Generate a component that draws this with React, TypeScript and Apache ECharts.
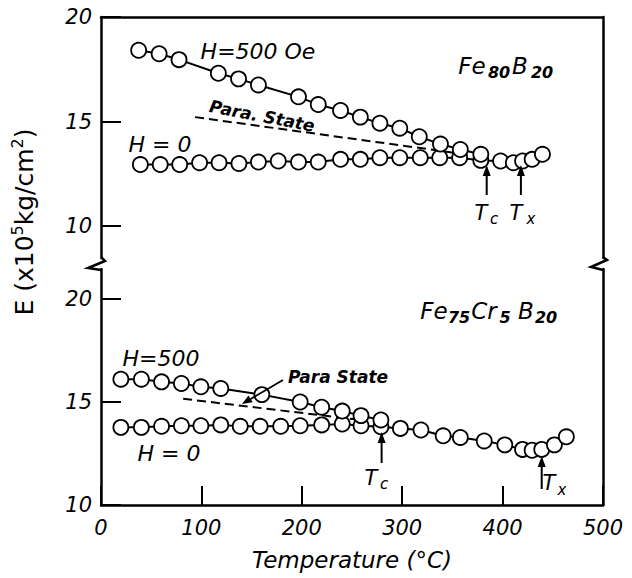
import React, { useEffect, useRef } from "react";
import * as echarts from "echarts";

// ---------- data ----------
const xTicks = [0, 100, 200, 300, 400, 500];
const yTicks = [10, 15, 20];

// Fe80B20, H = 500 Oe
const top500T = [37.5, 57.9, 77.7, 116.9, 137, 156.8, 196.7, 216.4, 238.6, 258.3, 277.8, 297.6, 317, 338.1, 357.9, 378.3];
const top500E = [18.41, 18.24, 17.96, 17.31, 17.04, 16.75, 16.18, 15.81, 15.53, 15.21, 14.92, 14.68, 14.27, 13.92, 13.66, 13.43];
// Fe80B20, H = 0
const top0T = [39.2, 59, 78.4, 98.2, 117.6, 137.4, 156.8, 176.6, 196.7, 216.4, 238.6, 258.3, 277.8, 297.6, 318, 337.4, 357.2, 378.3, 398, 410.7, 419.9, 429.4, 439.7];
const top0E = [12.94, 12.94, 12.94, 13.03, 13.03, 12.99, 13.06, 13.11, 13.06, 13.06, 13.19, 13.19, 13.27, 13.27, 13.27, 13.27, 13.27, 13.14, 13.11, 13.03, 13.11, 13.19, 13.43];
// Fe80B20, para state
const topParaT = [93.7, 368];
const topParaE = [15.21, 13.4];

// Fe75Cr5B20, H = 500
const bot500T = [19.8, 40.2, 60.3, 80.1, 99.5, 119.3, 160.2, 198.4, 219.8, 240.3, 259, 278.8];
const bot500E = [16.11, 16.11, 15.98, 15.9, 15.74, 15.66, 15.36, 15.0, 14.75, 14.56, 14.34, 14.13];
// Fe75Cr5B20, H = 0
const bot0T = [19.8, 40.2, 60.3, 80.1, 99.5, 119.3, 138.7, 158.5, 179, 198.4, 219.8, 240.3, 259, 278.8, 298.2, 318.7, 340.8, 357.9, 381.7, 402.2, 419.9, 429.4, 439, 451.6, 463.5];
const bot0E = [13.77, 13.77, 13.82, 13.85, 13.85, 13.89, 13.82, 13.82, 13.82, 13.85, 13.89, 13.93, 13.85, 13.8, 13.72, 13.64, 13.36, 13.28, 13.11, 12.92, 12.7, 12.66, 12.7, 12.92, 13.31];
// Fe75Cr5B20, para state
const botParaT = [81.8, 255];
const botParaE = [15.16, 14.15];

// ---------- helpers ----------
const FONT = '"DejaVu Sans", sans-serif';
const zip = (a: number[], b: number[]) => a.map((v, i) => [v, b[i]]);

const txt = (x: number, y: number, text: string, size: number, extra: any = {}, el: any = {}) => ({
  type: "text",
  x,
  y,
  z: 100,
  ...el,
  style: {
    text,
    fill: "#000",
    fontSize: size,
    fontFamily: FONT,
    fontStyle: "italic",
    align: "center",
    verticalAlign: "middle",
    ...extra,
  },
});

const upArrow = (x: number, yBottom: number, yTip: number) => [
  { type: "line", z: 100, shape: { x1: x, y1: yBottom, x2: x, y2: yTip + 8 }, style: { stroke: "#000", lineWidth: 2 } },
  { type: "polygon", z: 100, shape: { points: [[x, yTip], [x - 4, yTip + 11], [x + 4, yTip + 11]] }, style: { fill: "#000" } },
];

const markerSeries = (name: string, data: number[][], xi: number, yi: number) => ({
  name,
  type: "line",
  xAxisIndex: xi,
  yAxisIndex: yi,
  data,
  symbol: "circle",
  symbolSize: 15,
  itemStyle: { color: "#fff", borderColor: "#000", borderWidth: 1.8 },
  lineStyle: { color: "#000", width: 2 },
  z: 3,
});

const dashSeries = (name: string, data: number[][], xi: number, yi: number) => ({
  name,
  type: "line",
  xAxisIndex: xi,
  yAxisIndex: yi,
  data,
  showSymbol: false,
  symbol: "none",
  lineStyle: { color: "#000", width: 2, type: [9, 5] },
  z: 2,
});

const axisLineStyle = { show: true, onZero: false, lineStyle: { color: "#000", width: 2.5 } };
const tickLabel = { color: "#000", fontSize: 21, fontFamily: FONT, fontStyle: "italic" };

export default function App() {
  const ref = useRef<HTMLDivElement>(null);

  useEffect(() => {
    if (!ref.current) return;
    const chart = echarts.init(ref.current, undefined, { renderer: "svg" });

    const graphics: any[] = [
      // axis break marks
      { type: "polyline", z: 100, shape: { points: [[101, 257], [105, 261], [88, 268], [101, 270]] }, style: { stroke: "#000", lineWidth: 2.5, fill: null } },
      { type: "polyline", z: 100, shape: { points: [[603, 257], [607, 260], [591, 267], [603, 270]] }, style: { stroke: "#000", lineWidth: 2.5, fill: null } },
      // y axis title
      {
        type: "text",
        x: 24,
        y: 222,
        rotation: Math.PI / 2,
        style: {
          text: "{n|E (x10}{s|5}{n|kg/cm}{s|2}{n|)}",
          align: "center",
          verticalAlign: "middle",
          fill: "#000",
          rich: {
            n: { fontSize: 25, fontFamily: FONT, lineHeight: 30, fill: "#000" },
            s: { fontSize: 16, fontFamily: FONT, lineHeight: 16, verticalAlign: "top", fill: "#000" },
          },
        },
      },
      // x axis title
      txt(352, 560, "Temperature (°C)", 23),
      // top panel labels
      txt(258, 51, "H=500 Oe", 22),
      txt(160, 144, "H = 0", 22),
      txt(262, 116, "Para. State", 17, { fontWeight: "bold" }, { rotation: -0.19 }),
      txt(472, 66, "Fe", 23),
      txt(499, 72, "80", 16, { fontWeight: "bold" }),
      txt(520, 66, "B", 23),
      txt(542, 72, "20", 16, { fontWeight: "bold" }),
      txt(481, 213, "T", 21),
      txt(494, 219, "c", 15),
      txt(516, 213, "T", 21),
      txt(531, 219, "x", 15),
      ...upArrow(486.7, 195, 165),
      ...upArrow(520.9, 195, 165),
      // bottom panel labels
      txt(161, 358, "H=500", 22),
      txt(169, 453, "H = 0", 22),
      txt(338, 377, "Para State", 17, { fontWeight: "bold" }),
      { type: "line", z: 100, shape: { x1: 283, y1: 380, x2: 249, y2: 400 }, style: { stroke: "#000", lineWidth: 1.8 } },
      { type: "polygon", z: 100, shape: { points: [[242, 404], [252.7, 402.3], [248.5, 395.5]] }, style: { fill: "#000" } },
      txt(434, 311, "Fe", 23),
      txt(459, 317, "75", 16, { fontWeight: "bold" }),
      txt(484, 311, "Cr", 23),
      txt(505, 317, "5", 16, { fontWeight: "bold" }),
      txt(526, 311, "B", 23),
      txt(546, 317, "20", 16, { fontWeight: "bold" }),
      txt(371, 478, "T", 21),
      txt(384, 484, "c", 15),
      txt(549, 483, "T", 21),
      txt(562, 490, "x", 15),
      ...upArrow(381.6, 463, 432),
      ...upArrow(541.7, 489, 456),
    ];

    chart.setOption({
      animation: false,
      backgroundColor: "#fff",
      grid: [
        { left: 101, top: 17, width: 502, height: 241 },
        { left: 101, top: 269, width: 502, height: 236 },
      ],
      xAxis: [
        {
          gridIndex: 0, type: "value", min: 0, max: 500, position: "top",
          axisLine: axisLineStyle, axisTick: { show: false }, axisLabel: { show: false }, splitLine: { show: false },
        },
        {
          gridIndex: 1, type: "value", min: 0, max: 500, interval: 100, position: "bottom",
          axisLine: axisLineStyle,
          axisTick: { show: true, inside: true, length: 19, lineStyle: { color: "#000", width: 2 } },
          axisLabel: { ...tickLabel, margin: 12, customValues: xTicks },
          splitLine: { show: false },
        },
      ],
      yAxis: [
        {
          gridIndex: 0, type: "value", min: 8.47, max: 20, position: "left",
          axisLine: axisLineStyle,
          axisTick: { show: true, inside: true, length: 20, customValues: yTicks, lineStyle: { color: "#000", width: 2 } },
          axisLabel: { ...tickLabel, margin: 9, customValues: yTicks },
          splitLine: { show: false },
        },
        {
          gridIndex: 0, type: "value", min: 8.47, max: 20, position: "right",
          axisLine: axisLineStyle, axisTick: { show: false }, axisLabel: { show: false }, splitLine: { show: false },
        },
        {
          gridIndex: 1, type: "value", min: 10, max: 21.46, position: "left",
          axisLine: axisLineStyle,
          axisTick: { show: true, inside: true, length: 20, customValues: yTicks, lineStyle: { color: "#000", width: 2 } },
          axisLabel: { ...tickLabel, margin: 9, customValues: yTicks },
          splitLine: { show: false },
        },
        {
          gridIndex: 1, type: "value", min: 10, max: 21.46, position: "right",
          axisLine: axisLineStyle, axisTick: { show: false }, axisLabel: { show: false }, splitLine: { show: false },
        },
      ],
      series: [
        dashSeries("Fe80B20 Para. State", zip(topParaT, topParaE), 0, 0),
        markerSeries("Fe80B20 H=0", zip(top0T, top0E), 0, 0),
        markerSeries("Fe80B20 H=500 Oe", zip(top500T, top500E), 0, 0),
        dashSeries("Fe75Cr5B20 Para State", zip(botParaT, botParaE), 1, 2),
        markerSeries("Fe75Cr5B20 H=0", zip(bot0T, bot0E), 1, 2),
        markerSeries("Fe75Cr5B20 H=500", zip(bot500T, bot500E), 1, 2),
      ],
      graphic: graphics,
    });

    return () => chart.dispose();
  }, []);

  return (
    <div
      ref={ref}
      style={{ position: "fixed", left: 0, top: 0, width: 632, height: 578, background: "#fff" }}
    />
  );
}
